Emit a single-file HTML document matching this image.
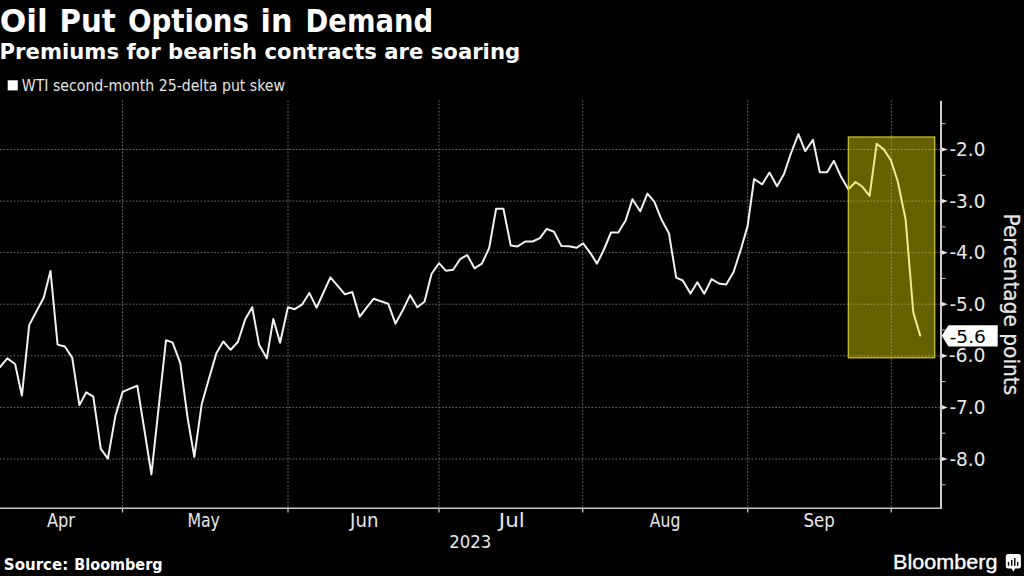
<!DOCTYPE html>
<html><head><meta charset="utf-8"><style>
html,body{margin:0;padding:0;background:#000;}
body{width:1024px;height:576px;overflow:hidden;}
svg{display:block;}
</style></head><body>
<svg width="1024" height="576" viewBox="0 0 1024 576">
<rect width="1024" height="576" fill="#000"/>
<rect x="7.7" y="80.3" width="10.1" height="10.1" fill="#fff"/>
<g stroke="#646464" stroke-width="1" stroke-dasharray="1.8 1.6" fill="none">
<line x1="0" y1="149.5" x2="940" y2="149.5"/><line x1="0" y1="201.1" x2="940" y2="201.1"/><line x1="0" y1="252.7" x2="940" y2="252.7"/><line x1="0" y1="304.2" x2="940" y2="304.2"/><line x1="0" y1="355.8" x2="940" y2="355.8"/><line x1="0" y1="407.4" x2="940" y2="407.4"/><line x1="0" y1="459.0" x2="940" y2="459.0"/>
<line x1="122.5" y1="100.5" x2="122.5" y2="508"/><line x1="288" y1="100.5" x2="288" y2="508"/><line x1="439" y1="100.5" x2="439" y2="508"/><line x1="582.7" y1="100.5" x2="582.7" y2="508"/><line x1="747.7" y1="100.5" x2="747.7" y2="508"/><line x1="891.3" y1="100.5" x2="891.3" y2="508"/>
</g>
<path d="M0.0,367.0 L7.3,358.4 L15.1,364.0 L21.9,395.6 L29.2,325.1 L36.4,311.4 L43.7,297.7 L50.5,271.0 L57.6,344.6 L64.8,346.5 L72.2,357.6 L79.4,405.1 L86.3,392.3 L93.3,396.6 L100.8,448.9 L107.9,458.6 L115.4,415.8 L122.7,391.8 L130.0,388.6 L137.3,385.7 L144.4,430.0 L151.4,474.4 L158.7,407.2 L166.0,340.3 L172.5,342.4 L180.3,363.1 L187.6,417.8 L194.3,456.8 L201.7,404.3 L209.0,378.6 L216.5,352.9 L223.3,341.5 L230.6,349.8 L237.9,342.0 L245.1,319.6 L252.2,307.2 L259.0,344.4 L266.8,358.3 L273.3,318.9 L280.1,342.7 L287.9,307.2 L294.7,309.2 L302.3,304.3 L309.3,292.9 L316.6,307.6 L323.5,292.5 L330.4,277.4 L337.7,285.9 L345.0,294.4 L352.3,292.0 L359.6,316.8 L366.8,307.3 L373.6,298.8 L380.9,301.2 L388.2,303.7 L395.5,323.6 L402.8,310.2 L410.1,295.1 L417.2,307.3 L424.5,301.7 L431.5,274.0 L439.0,263.2 L445.8,270.7 L453.1,269.7 L460.4,258.8 L467.2,255.1 L474.5,268.3 L481.8,263.7 L489.1,248.3 L496.1,208.8 L503.4,208.8 L510.7,245.4 L517.5,246.4 L525.3,241.5 L532.6,241.5 L539.9,238.1 L546.7,228.9 L554.0,231.8 L561.3,245.9 L569.0,246.2 L576.5,247.8 L583.1,243.4 L590.4,253.1 L597.0,263.6 L604.2,249.0 L611.0,232.5 L618.3,232.5 L625.6,220.6 L632.4,199.2 L640.2,211.3 L647.4,193.6 L654.3,201.6 L661.6,219.8 L668.9,233.2 L676.2,277.6 L682.8,280.5 L690.5,293.6 L697.3,282.3 L704.3,293.7 L711.6,279.1 L718.9,283.5 L726.2,284.5 L733.5,272.3 L740.8,249.5 L747.6,226.1 L754.1,179.0 L762.2,184.3 L769.5,172.5 L777.0,186.2 L784.0,174.0 L790.7,154.0 L798.4,134.1 L805.2,151.1 L813.0,139.9 L819.8,172.3 L827.1,172.3 L833.9,160.8 L841.2,177.1 L848.3,189.3 L855.6,182.0 L862.4,186.8 L869.6,195.8 L876.7,143.7 L883.9,149.6 L890.9,160.2 L897.8,181.5 L905.6,219.5 L913.3,312.5 L920.2,335.6" fill="none" stroke="#f2f2f2" stroke-width="2" stroke-linejoin="round" stroke-linecap="round"/>
<rect x="848.3" y="137" width="86.4" height="220.8" fill="rgba(242,232,0,0.42)" stroke="#d2cc20" stroke-width="1.2"/>
<g stroke="#cccccc" stroke-width="1.2" fill="none"><line x1="122.5" y1="508" x2="122.5" y2="512.5"/><line x1="288" y1="508" x2="288" y2="512.5"/><line x1="439" y1="508" x2="439" y2="512.5"/><line x1="582.7" y1="508" x2="582.7" y2="512.5"/><line x1="747.7" y1="508" x2="747.7" y2="512.5"/><line x1="891.3" y1="508" x2="891.3" y2="512.5"/></g>
<line x1="0" y1="508.2" x2="942" y2="508.2" stroke="#cccccc" stroke-width="1.6"/>
<line x1="941" y1="100.7" x2="941" y2="509" stroke="#cccccc" stroke-width="2"/>
<g fill="#e6e6e6"><path d="M942,147.4 L947.8,149.5 L942,151.6 Z"/><path d="M942,199.0 L947.8,201.1 L942,203.2 Z"/><path d="M942,250.6 L947.8,252.7 L942,254.8 Z"/><path d="M942,302.1 L947.8,304.2 L942,306.3 Z"/><path d="M942,353.7 L947.8,355.8 L942,357.9 Z"/><path d="M942,405.3 L947.8,407.4 L942,409.5 Z"/><path d="M942,456.9 L947.8,459.0 L942,461.1 Z"/></g>
<g stroke="#cccccc" stroke-width="1"><line x1="942" y1="123.7" x2="945.5" y2="123.7"/><line x1="942" y1="175.3" x2="945.5" y2="175.3"/><line x1="942" y1="226.9" x2="945.5" y2="226.9"/><line x1="942" y1="278.4" x2="945.5" y2="278.4"/><line x1="942" y1="330.0" x2="945.5" y2="330.0"/><line x1="942" y1="381.6" x2="945.5" y2="381.6"/><line x1="942" y1="433.2" x2="945.5" y2="433.2"/><line x1="942" y1="484.8" x2="945.5" y2="484.8"/></g>
<path d="M941.8,335.8 L948.4,325.2 L997.7,325.2 L997.7,346.4 L948.4,346.4 Z" fill="#fff"/>
<text transform="translate(1004.0,213.52) rotate(90)" x="0" y="0" fill="#e6e6e6" stroke="#e6e6e6" stroke-width="0.25" font-family="DejaVu Sans Condensed, DejaVu Sans, sans-serif" font-stretch="condensed" font-size="22" textLength="181.72" lengthAdjust="spacingAndGlyphs">Percentage points</text>
<text x="-0.26" y="31.70" font-family="DejaVu Sans Condensed, DejaVu Sans, sans-serif" font-stretch="condensed" font-weight="bold" font-size="31.5" fill="#fff" textLength="47.87" lengthAdjust="spacingAndGlyphs">Oil</text>
<text x="59.53" y="31.70" font-family="DejaVu Sans Condensed, DejaVu Sans, sans-serif" font-stretch="condensed" font-weight="bold" font-size="31.5" fill="#fff" textLength="56.29" lengthAdjust="spacingAndGlyphs">Put</text>
<text x="128.02" y="31.70" font-family="DejaVu Sans Condensed, DejaVu Sans, sans-serif" font-stretch="condensed" font-weight="bold" font-size="31.5" fill="#fff" textLength="120.95" lengthAdjust="spacingAndGlyphs">Options</text>
<text x="260.64" y="31.70" font-family="DejaVu Sans Condensed, DejaVu Sans, sans-serif" font-stretch="condensed" font-weight="bold" font-size="31.5" fill="#fff" textLength="31.86" lengthAdjust="spacingAndGlyphs">in</text>
<text x="305.61" y="31.70" font-family="DejaVu Sans Condensed, DejaVu Sans, sans-serif" font-stretch="condensed" font-weight="bold" font-size="31.5" fill="#fff" textLength="127.44" lengthAdjust="spacingAndGlyphs">Demand</text>
<text x="-0.41" y="59.00" font-family="DejaVu Sans, sans-serif" font-weight="bold" font-size="21.3" fill="#fff" textLength="520.53" lengthAdjust="spacingAndGlyphs">Premiums for bearish contracts are soaring</text>
<text x="21.78" y="91.00" font-family="DejaVu Sans Condensed, DejaVu Sans, sans-serif" font-stretch="condensed" font-size="15" fill="#e6e6e6" textLength="263.30" lengthAdjust="spacingAndGlyphs">WTI second-month 25-delta put skew</text>
<text x="3.89" y="570.00" font-family="DejaVu Sans Condensed, DejaVu Sans, sans-serif" font-stretch="condensed" font-weight="bold" font-size="15.6" fill="#fff" textLength="64.32" lengthAdjust="spacingAndGlyphs">Source:</text>
<text x="74.34" y="570.00" font-family="DejaVu Sans Condensed, DejaVu Sans, sans-serif" font-stretch="condensed" font-weight="bold" font-size="15.6" fill="#fff" textLength="88.23" lengthAdjust="spacingAndGlyphs">Bloomberg</text>
<text x="949.40" y="156.10" font-family="DejaVu Sans Condensed, DejaVu Sans, sans-serif" font-stretch="condensed" font-size="19" fill="#e8e8e8" textLength="36.03" lengthAdjust="spacingAndGlyphs">-2.0</text>
<text x="949.40" y="207.68" font-family="DejaVu Sans Condensed, DejaVu Sans, sans-serif" font-stretch="condensed" font-size="19" fill="#e8e8e8" textLength="36.03" lengthAdjust="spacingAndGlyphs">-3.0</text>
<text x="949.40" y="259.26" font-family="DejaVu Sans Condensed, DejaVu Sans, sans-serif" font-stretch="condensed" font-size="19" fill="#e8e8e8" textLength="36.03" lengthAdjust="spacingAndGlyphs">-4.0</text>
<text x="949.40" y="310.84" font-family="DejaVu Sans Condensed, DejaVu Sans, sans-serif" font-stretch="condensed" font-size="19" fill="#e8e8e8" textLength="36.03" lengthAdjust="spacingAndGlyphs">-5.0</text>
<text x="948.73" y="362.42" font-family="DejaVu Sans Condensed, DejaVu Sans, sans-serif" font-stretch="condensed" font-size="19" fill="#e8e8e8" textLength="36.75" lengthAdjust="spacingAndGlyphs">-6.0</text>
<text x="949.40" y="414.00" font-family="DejaVu Sans Condensed, DejaVu Sans, sans-serif" font-stretch="condensed" font-size="19" fill="#e8e8e8" textLength="36.03" lengthAdjust="spacingAndGlyphs">-7.0</text>
<text x="949.40" y="465.58" font-family="DejaVu Sans Condensed, DejaVu Sans, sans-serif" font-stretch="condensed" font-size="19" fill="#e8e8e8" textLength="36.03" lengthAdjust="spacingAndGlyphs">-8.0</text>
<text x="949.66" y="342.90" font-family="DejaVu Sans Condensed, DejaVu Sans, sans-serif" font-stretch="condensed" font-size="18.5" fill="#000" textLength="36.24" lengthAdjust="spacingAndGlyphs">-5.6</text>
<text x="47.00" y="526.60" font-family="DejaVu Sans Condensed, DejaVu Sans, sans-serif" font-stretch="condensed" font-size="19" fill="#e8e8e8" textLength="28.00" lengthAdjust="spacingAndGlyphs">Apr</text>
<text x="187.43" y="526.60" font-family="DejaVu Sans Condensed, DejaVu Sans, sans-serif" font-stretch="condensed" font-size="19" fill="#e8e8e8" textLength="32.50" lengthAdjust="spacingAndGlyphs">May</text>
<text x="350.09" y="526.60" font-family="DejaVu Sans Condensed, DejaVu Sans, sans-serif" font-stretch="condensed" font-size="19" fill="#e8e8e8" textLength="28.30" lengthAdjust="spacingAndGlyphs">Jun</text>
<text x="498.86" y="526.60" font-family="DejaVu Sans Condensed, DejaVu Sans, sans-serif" font-stretch="condensed" font-size="19" fill="#e8e8e8" textLength="25.85" lengthAdjust="spacingAndGlyphs">Jul</text>
<text x="649.79" y="526.60" font-family="DejaVu Sans Condensed, DejaVu Sans, sans-serif" font-stretch="condensed" font-size="19" fill="#e8e8e8" textLength="30.56" lengthAdjust="spacingAndGlyphs">Aug</text>
<text x="803.39" y="526.60" font-family="DejaVu Sans Condensed, DejaVu Sans, sans-serif" font-stretch="condensed" font-size="19" fill="#e8e8e8" textLength="31.35" lengthAdjust="spacingAndGlyphs">Sep</text>
<text x="449.36" y="547.90" font-family="DejaVu Sans Condensed, DejaVu Sans, sans-serif" font-stretch="condensed" font-size="18.5" fill="#e8e8e8" textLength="41.90" lengthAdjust="spacingAndGlyphs">2023</text>
<text x="893.14" y="569.10" font-family="Liberation Sans, sans-serif" font-size="21" fill="#fff" stroke="#fff" stroke-width="0.35" textLength="104.35" lengthAdjust="spacingAndGlyphs">Bloomberg</text>
<rect x="1005.8" y="554.1" width="15.1" height="14.3" rx="2.2" fill="#fff"/>
<path d="M1011.3,568 L1013.3,571.8 L1015.3,568 Z" fill="#fff"/>
<g fill="#000"><rect x="1007.8" y="561.9" width="1.4" height="3.9"/><rect x="1011" y="559.9" width="1.4" height="5.9"/><rect x="1014.1" y="558" width="1.4" height="7.8"/><rect x="1017" y="561.9" width="1.3" height="3.9"/></g>
</svg>
</body></html>
